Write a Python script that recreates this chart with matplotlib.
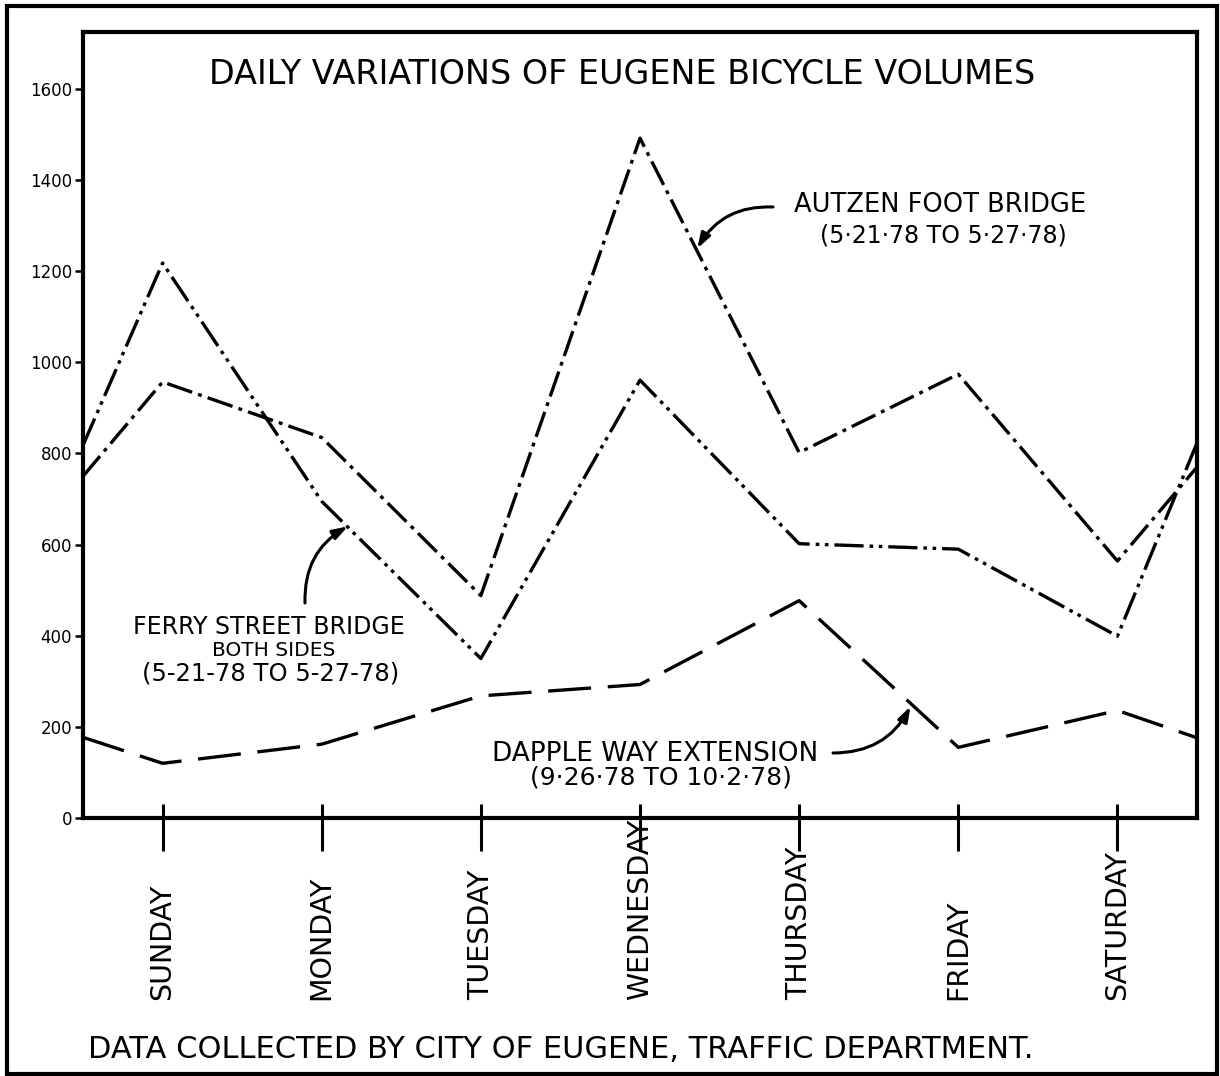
import matplotlib
matplotlib.use("Agg")
import matplotlib.pyplot as plt
from matplotlib.patches import Rectangle
from matplotlib.transforms import blended_transform_factory
import numpy as np

# ---------------- data ----------------
days = ["SUNDAY", "MONDAY", "TUESDAY", "WEDNESDAY", "THURSDAY", "FRIDAY", "SATURDAY"]
# each series: value where the line enters at the left edge, the seven daily
# counts (Sunday..Saturday), value where the line leaves at the right edge
autzen = [750, 957, 835, 488, 1492, 802, 974, 564, 770]
ferry = [818, 1218, 695, 350, 961, 602, 590, 399, 823]
dapple = [177, 120, 162, 268, 293, 477, 155, 236, 176]
y_ticks = [0, 200, 400, 600, 800, 1000, 1200, 1400, 1600]

title = "DAILY VARIATIONS OF EUGENE BICYCLE VOLUMES"
autzen_label = ["AUTZEN FOOT BRIDGE", "(5\u00b721\u00b778 TO 5\u00b727\u00b778)"]
ferry_label = ["FERRY STREET BRIDGE", "BOTH SIDES", "(5-21-78 TO 5-27-78)"]
dapple_label = ["DAPPLE WAY EXTENSION", "(9\u00b726\u00b778 TO 10\u00b72\u00b778)"]
footer = "DATA COLLECTED BY CITY OF EUGENE, TRAFFIC DEPARTMENT."

# ---------------- figure ----------------
plt.rcParams['lines.scale_dashes'] = False
plt.rcParams['font.family'] = ['DejaVu Sans']
W, H = 1220, 1076
fig = plt.figure(figsize=(W / 100, H / 100), dpi=100)
fig.patch.set_facecolor('white')


def px(xp, yp):
    return (xp / W, 1 - yp / H)


ax = fig.add_axes([83 / W, 1 - 818 / H, 1114 / W, 786 / H])
ax.set_xlim(-0.5, len(days) - 0.5)
ax.set_ylim(0, 1725)

x = np.concatenate([[-0.5], np.arange(len(days)), [len(days) - 0.5]])

common = dict(color='black', lw=2.4, dash_capstyle='butt', solid_joinstyle='miter')
ax.plot(x, autzen, dashes=[19, 4.5, 2.8, 4.5], **common)
ax.plot(x, ferry, dashes=[21, 4.3, 2.6, 4.0, 2.6, 4.3], **common)
ax.plot(x, dapple, dashes=[31, 12], **common)

for s in ax.spines.values():
    s.set_linewidth(3)
    s.set_color('black')

# x ticks: long marks crossing the base line
ax.set_xticks(np.arange(len(days)))
ax.set_xticks(np.arange(len(days)), minor=True)
ax.xaxis.remove_overlapping_locs = False
ax.tick_params(axis='x', which='major', direction='out', length=24, width=2.2,
               labelbottom=False)
ax.tick_params(axis='x', which='minor', direction='in', length=10, width=2.2,
               labelbottom=False)

ax.set_yticks(y_ticks)
ax.set_yticklabels([str(v) for v in y_ticks])
ax.tick_params(axis='y', direction='out', length=6, width=1.8, labelsize=12, pad=2)

trans = blended_transform_factory(ax.transData, ax.transAxes)
for i, d in enumerate(days):
    ax.text(i, (H - 1000 - 258) / 786, d, rotation=90, ha='center', va='bottom',
            fontsize=20.5, transform=trans, clip_on=False)

# title and labels
fig.text(*px(622, 75), title, ha='center', va='center', fontsize=24)

fig.text(*px(940, 205), autzen_label[0], ha='center', va='center', fontsize=18.5)
fig.text(*px(943, 236), autzen_label[1], ha='center', va='center', fontsize=17)

fig.text(*px(269, 627), ferry_label[0], ha='center', va='center', fontsize=17)
fig.text(*px(274, 651), ferry_label[1], ha='center', va='center', fontsize=14.5)
fig.text(*px(271, 673), ferry_label[2], ha='center', va='center', fontsize=17.5)

fig.text(*px(655, 754), dapple_label[0], ha='center', va='center', fontsize=19)
fig.text(*px(661, 778), dapple_label[1], ha='center', va='center', fontsize=18)

fig.text(*px(88, 1050), footer, ha='left', va='center', fontsize=22)

# curved arrows
arrow = dict(arrowstyle='-|>,head_length=0.9,head_width=0.3', lw=2.2,
             color='black', shrinkA=0, shrinkB=0)
ax.annotate('', xy=(3.36, 1250), xytext=px(773, 207), textcoords='figure fraction',
            arrowprops=dict(connectionstyle='arc3,rad=0.3', **arrow))
ax.annotate('', xy=(1.165, 640), xytext=px(305, 603), textcoords='figure fraction',
            arrowprops=dict(connectionstyle='arc3,rad=-0.3', **arrow))
ax.annotate('', xy=(4.70, 245), xytext=px(833, 753), textcoords='figure fraction',
            arrowprops=dict(connectionstyle='arc3,rad=0.3', **arrow))

# outer frame
fig.patches.append(Rectangle(px(7, 1074), (1217 - 7) / W, (1074 - 6) / H,
                             transform=fig.transFigure, fill=False, lw=3,
                             ec='black'))

fig.savefig('out.png', dpi=100)
